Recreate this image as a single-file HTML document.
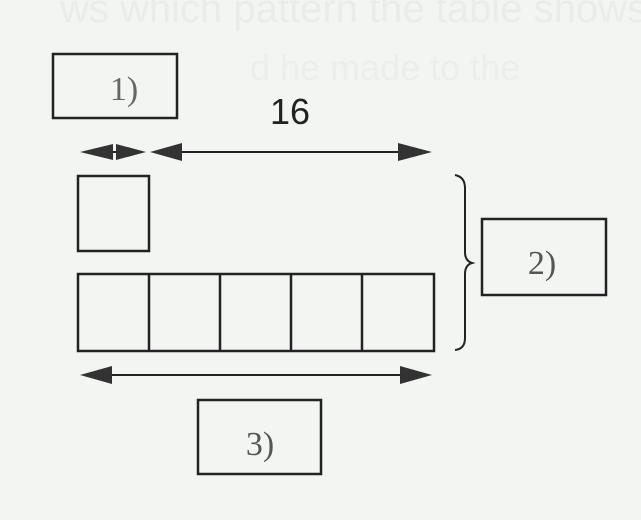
<!DOCTYPE html>
<html><head><meta charset="utf-8"><style>
html,body{margin:0;padding:0;background:#f3f5f3;}
svg{display:block}
</style></head><body>
<svg width="641" height="520" viewBox="0 0 641 520">
<rect width="641" height="520" fill="#f3f5f3"/>
<text x="60" y="22" font-family="Liberation Sans, sans-serif" font-size="40" fill="#eaece9">ws which pattern the table shows</text>
<text x="250" y="80" font-family="Liberation Sans, sans-serif" font-size="36" fill="#eceeeb">d he made to the</text>
<g stroke="#222" stroke-width="2.5" fill="none">
<rect x="53" y="54" width="124" height="64"/>
<rect x="78" y="176" width="71" height="75"/>
<rect x="78" y="274" width="356" height="77"/>
<line x1="149" y1="274" x2="149" y2="351"/><line x1="220" y1="274" x2="220" y2="351"/><line x1="291" y1="274" x2="291" y2="351"/><line x1="362" y1="274" x2="362" y2="351"/>
<rect x="482" y="219" width="124" height="76"/>
<rect x="198" y="400" width="123" height="74"/>
<path d="M455 175 Q465 177 465 188 L465 252 Q465 261 472 263 Q465 265 465 274 L465 338 Q465 349 455 350" stroke-width="2"/>
<line x1="95" y1="152" x2="135" y2="152" stroke-width="2"/>
<line x1="165" y1="152" x2="410" y2="152" stroke-width="2"/>
<line x1="100" y1="375" x2="410" y2="375" stroke-width="2"/>
</g>
<g fill="#333">
<polygon points="80,152 113,144 113,160"/>
<polygon points="146,152 116,144 116,160"/>
<polygon points="150,152 182,143 182,161"/>
<polygon points="432,152 398,143 398,161"/>
<polygon points="80,375 112,366 112,384"/>
<polygon points="432,375 400,366 400,384"/>
</g>
<text x="290" y="124" text-anchor="middle" font-family="Liberation Sans, sans-serif" font-size="36" fill="#222">16</text>
<text x="124" y="100" text-anchor="middle" font-family="Liberation Serif, serif" font-size="34" fill="#666">1)</text>
<text x="542" y="274" text-anchor="middle" font-family="Liberation Serif, serif" font-size="34" fill="#555">2)</text>
<text x="260" y="455" text-anchor="middle" font-family="Liberation Serif, serif" font-size="34" fill="#555">3)</text>
</svg>
</body></html>
